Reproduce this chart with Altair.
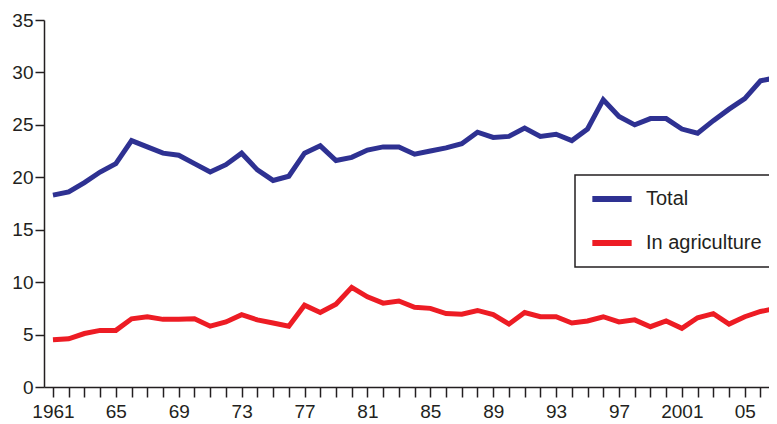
import altair as alt
import pandas as pd

years = list(range(1961, 2008))
total = [18.3, 18.6, 19.5, 20.5, 21.3, 23.5, 22.9, 22.3, 22.1, 21.3,
         20.5, 21.2, 22.3, 20.7, 19.7, 20.1, 22.3, 23.0, 21.6, 21.9,
         22.6, 22.9, 22.9, 22.2, 22.5, 22.8, 23.2, 24.3, 23.8, 23.9,
         24.7, 23.9, 24.1, 23.5, 24.6, 27.4, 25.8, 25.0, 25.6, 25.6,
         24.6, 24.2, 25.4, 26.5, 27.5, 29.2, 29.5]
agriculture = [4.5, 4.6, 5.1, 5.4, 5.4, 6.5, 6.7, 6.45, 6.45, 6.5,
               5.8, 6.2, 6.9, 6.4, 6.1, 5.8, 7.8, 7.1, 7.9, 9.5,
               8.6, 8.0, 8.2, 7.6, 7.5, 7.0, 6.95, 7.3, 6.9, 6.0,
               7.1, 6.7, 6.7, 6.1, 6.3, 6.7, 6.2, 6.4, 5.75, 6.3,
               5.6, 6.6, 7.0, 6.0, 6.7, 7.2, 7.5]
series_names = ["Total", "In agriculture"]
series_colors = ["#2e3192", "#ed1c24"]
y_ticks = [0, 5, 10, 15, 20, 25, 30, 35]

df = pd.concat([
    pd.DataFrame({"year": years, "value": total, "series": "Total"}),
    pd.DataFrame({"year": years, "value": agriculture, "series": "In agriculture"}),
])

FONT = "Liberation Sans"
TXT = "#231f20"

label_expr = ("datum.value % 4 == 1 ? ((datum.value == 1961 || datum.value == 2001) ? "
              "toString(datum.value) : slice(toString(datum.value), 2)) : ''")

chart = alt.Chart(df).mark_line(strokeWidth=5).encode(
    x=alt.X("year:Q",
            scale=alt.Scale(domain=[1960.43, 2007.05], nice=False, zero=False),
            axis=alt.Axis(values=years, labelExpr=label_expr, title=None, grid=False,
                          labelOverlap=False, labelFlush=False, tickSize=10,
                          labelPadding=5, labelFontSize=19)),
    y=alt.Y("value:Q",
            scale=alt.Scale(domain=[0, 35], nice=False),
            axis=alt.Axis(values=y_ticks, title=None, grid=False, tickSize=9,
                          labelPadding=2, labelFontSize=19)),
    color=alt.Color("series:N",
                    scale=alt.Scale(domain=series_names, range=series_colors),
                    legend=alt.Legend(title=None, orient="none", legendX=531, legendY=155,
                                      symbolType="stroke", symbolStrokeWidth=6,
                                      symbolSize=1545, labelFontSize=20, labelFont=FONT,
                                      labelColor=TXT, padding=14, strokeColor=TXT,
                                      fillColor="white", rowPadding=24, clipHeight=20,
                                      labelOffset=11, symbolOffset=0)),
    order=alt.Order("year:Q"),
).properties(
    width=733, height=367,
    autosize=alt.AutoSizeParams(type="none"),
    padding={"left": 36, "top": 12, "right": -8, "bottom": 36},
).configure_view(stroke=None).configure_axis(
    domainColor=TXT, domainWidth=1.5, tickColor=TXT, tickWidth=1.5,
    labelFont=FONT, labelColor=TXT,
).configure_legend(strokeWidth=1.5)

chart.save("out.html", embed_options={"renderer": "svg", "actions": False})
